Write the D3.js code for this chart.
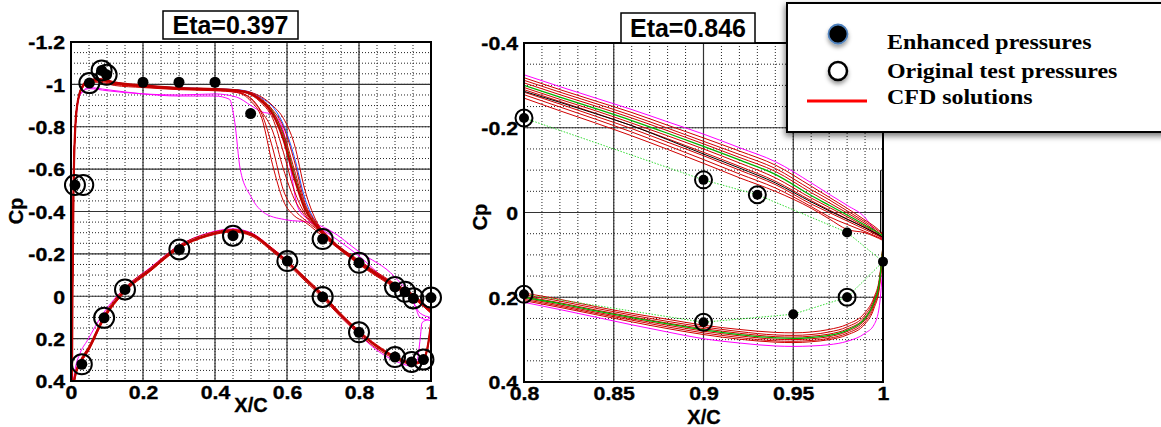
<!DOCTYPE html>
<html>
<head>
<meta charset="utf-8">
<script src="https://cdn.jsdelivr.net/npm/d3@7"></script>
<style>
  body { margin: 0; background: #fff; }
  svg { display: block; }
  .tick-label { font-family: "Liberation Sans", Arial, sans-serif; font-weight: bold; font-size: 19px; fill: #000; stroke: #000; stroke-width: 0.35px; }
</style>
</head>
<body>
<svg id="chart" width="1161" height="427"></svg>
<script>
// ---------------- Eta = 0.397 (inboard section) ----------------
const xUpperL = [0, 0.002, 0.004, 0.007, 0.012, 0.02, 0.035, 0.05, 0.08, 0.12, 0.2, 0.3, 0.4, 0.46, 0.5, 0.53, 0.56, 0.59, 0.62, 0.65, 0.68, 0.72, 0.8, 0.9, 0.95, 0.98, 1.0];
const upperRedL = [
  [1.0, 0.6, 0.0, -0.5, -0.8, -0.93, -1.0, -1.02, -1.025, -1.01, -0.995, -0.983, -0.978, -0.972, -0.955, -0.92, -0.86, -0.74, -0.56, -0.41, -0.335, -0.265, -0.16, -0.05, 0.0, 0.04, 0.07],
  [1.0, 0.6, 0.0, -0.5, -0.8, -0.93, -1.0, -1.02, -1.02, -1.005, -0.99, -0.98, -0.975, -0.97, -0.958, -0.93, -0.88, -0.80, -0.64, -0.44, -0.35, -0.27, -0.165, -0.055, -0.005, 0.04, 0.07],
  [1.0, 0.6, 0.0, -0.5, -0.8, -0.93, -1.0, -1.015, -1.02, -1.005, -0.99, -0.978, -0.973, -0.968, -0.95, -0.91, -0.84, -0.68, -0.50, -0.39, -0.33, -0.262, -0.158, -0.048, 0.002, 0.045, 0.075],
  [1.0, 0.6, 0.0, -0.5, -0.8, -0.93, -1.0, -1.02, -1.025, -1.01, -0.995, -0.984, -0.979, -0.974, -0.962, -0.94, -0.90, -0.84, -0.72, -0.50, -0.36, -0.275, -0.17, -0.06, -0.01, 0.035, 0.065],
  [1.0, 0.6, 0.0, -0.5, -0.8, -0.93, -0.99, -1.01, -1.01, -0.995, -0.985, -0.975, -0.97, -0.962, -0.935, -0.87, -0.78, -0.60, -0.46, -0.38, -0.325, -0.26, -0.155, -0.045, 0.005, 0.05, 0.08],
  [1.0, 0.6, 0.0, -0.5, -0.8, -0.93, -0.99, -1.01, -1.015, -1.0, -0.988, -0.977, -0.972, -0.962, -0.92, -0.84, -0.62, -0.45, -0.38, -0.35, -0.31, -0.255, -0.15, -0.04, 0.01, 0.05, 0.08],
  [1.0, 0.6, 0.0, -0.5, -0.8, -0.93, -1.0, -1.015, -1.02, -1.005, -0.99, -0.98, -0.974, -0.966, -0.93, -0.86, -0.70, -0.50, -0.41, -0.36, -0.32, -0.26, -0.155, -0.045, 0.005, 0.045, 0.075],
  [1.0, 0.6, 0.0, -0.5, -0.8, -0.93, -1.0, -1.02, -1.022, -1.008, -0.993, -0.982, -0.977, -0.971, -0.955, -0.925, -0.87, -0.77, -0.60, -0.43, -0.345, -0.27, -0.163, -0.052, -0.002, 0.04, 0.07]
];
const upperGreenL = [1.0, 0.6, 0.0, -0.5, -0.8, -0.93, -1.0, -1.02, -1.022, -1.007, -0.992, -0.981, -0.976, -0.97, -0.956, -0.925, -0.875, -0.76, -0.58, -0.42, -0.34, -0.268, -0.162, -0.05, 0.0, 0.042, 0.072];
const upperBlueL = [1.0, 0.6, 0.0, -0.5, -0.8, -0.93, -1.0, -1.02, -1.025, -1.01, -0.995, -0.984, -0.979, -0.975, -0.962, -0.935, -0.895, -0.81, -0.66, -0.46, -0.35, -0.272, -0.166, -0.055, -0.005, 0.04, 0.07];
const upperMagentaL = [
  [[0, 1.0], [0.003, 0.2], [0.006, -0.4], [0.012, -0.8], [0.025, -0.95], [0.05, -0.985], [0.1, -0.975], [0.2, -0.955], [0.3, -0.945], [0.4, -0.945], [0.44, -0.93], [0.455, -0.82], [0.47, -0.6], [0.5, -0.47], [0.54, -0.39], [0.6, -0.36], [0.66, -0.35], [0.72, -0.31], [0.8, -0.21], [0.9, -0.09], [0.95, 0.02], [0.97, 0.1], [1.0, 0.115]],
  [[0, 1.0], [0.003, 0.2], [0.006, -0.4], [0.012, -0.8], [0.025, -0.95], [0.05, -0.98], [0.1, -0.97], [0.2, -0.955], [0.3, -0.95], [0.4, -0.955], [0.46, -0.94], [0.5, -0.9], [0.53, -0.87], [0.56, -0.86], [0.59, -0.78], [0.61, -0.6], [0.63, -0.42], [0.66, -0.36], [0.72, -0.29], [0.8, -0.19], [0.88, -0.07], [0.94, 0.0], [0.97, 0.08], [1.0, 0.1]]
];

const xLowerL = [0, 0.003, 0.006, 0.012, 0.025, 0.05, 0.09, 0.15, 0.22, 0.3, 0.38, 0.45, 0.5, 0.56, 0.6, 0.65, 0.7, 0.75, 0.8, 0.85, 0.9, 0.95, 0.975, 0.99, 1.0];
const lowerRedL = [
  [1.0, 0.6, 0.44, 0.37, 0.315, 0.245, 0.105, -0.03, -0.125, -0.232, -0.288, -0.308, -0.292, -0.218, -0.163, -0.082, 0.0, 0.09, 0.17, 0.238, 0.288, 0.316, 0.305, 0.245, 0.13],
  [1.0, 0.62, 0.46, 0.385, 0.325, 0.255, 0.115, -0.02, -0.117, -0.225, -0.283, -0.303, -0.285, -0.21, -0.153, -0.072, 0.01, 0.1, 0.18, 0.248, 0.296, 0.322, 0.31, 0.25, 0.13],
  [1.0, 0.58, 0.43, 0.36, 0.305, 0.235, 0.095, -0.04, -0.133, -0.24, -0.296, -0.315, -0.298, -0.226, -0.17, -0.09, -0.01, 0.082, 0.162, 0.23, 0.282, 0.312, 0.3, 0.24, 0.125],
  [1.0, 0.6, 0.45, 0.375, 0.32, 0.25, 0.11, -0.025, -0.12, -0.228, -0.29, -0.312, -0.296, -0.222, -0.166, -0.085, -0.004, 0.086, 0.166, 0.234, 0.286, 0.318, 0.308, 0.25, 0.14]
];
const lowerGreenL = [1.0, 0.6, 0.44, 0.37, 0.312, 0.242, 0.103, -0.032, -0.127, -0.234, -0.29, -0.31, -0.294, -0.22, -0.165, -0.084, -0.002, 0.088, 0.168, 0.236, 0.287, 0.315, 0.304, 0.244, 0.128];
const lowerMagentaL = [[0, 1.0], [0.003, 0.5], [0.01, 0.36], [0.025, 0.27], [0.045, 0.21], [0.09, 0.08], [0.15, -0.04], [0.22, -0.135], [0.3, -0.24], [0.38, -0.298], [0.45, -0.318], [0.5, -0.3], [0.56, -0.225], [0.6, -0.17], [0.65, -0.085], [0.7, 0.0], [0.75, 0.095], [0.8, 0.18], [0.85, 0.255], [0.9, 0.305], [0.95, 0.33], [0.962, 0.3], [0.97, 0.2], [0.975, 0.125], [0.99, 0.11], [1.0, 0.1]];
const trailingEdgeL = [[1.0, -0.08], [1.0, 0.38]];

const testUpperL = [[0.011, -0.525], [0.034, -0.525], [0.051, -1.006], [0.085, -1.066], [0.099, -1.045], [0.699, -0.27], [0.8, -0.158], [0.9, -0.044], [0.928, -0.021], [0.951, 0.01], [1.0, 0.006]];
const testLowerL = [[0.03, 0.321], [0.092, 0.102], [0.15, -0.032], [0.301, -0.221], [0.45, -0.286], [0.601, -0.166], [0.699, 0.003], [0.8, 0.17], [0.9, 0.287], [0.946, 0.31], [0.979, 0.299]];
const enhancedL = [[0.011, -0.525], [0.051, -1.006], [0.085, -1.066], [0.099, -1.045], [0.2, -1.01], [0.3, -1.01], [0.4, -1.01], [0.499, -0.862],
  [0.699, -0.27], [0.8, -0.158], [0.9, -0.044], [0.928, -0.021], [0.951, 0.01], [1.0, 0.006],
  [0.03, 0.321], [0.092, 0.102], [0.15, -0.032], [0.301, -0.221], [0.45, -0.286], [0.601, -0.166], [0.699, 0.003], [0.8, 0.17], [0.9, 0.287], [0.946, 0.31], [0.979, 0.299]];

const xTicksL = [0, 0.2, 0.4, 0.6, 0.8, 1];
const xTickLabelsL = ["0", "0.2", "0.4", "0.6", "0.8", "1"];
const yTicksL = [-1.2, -1, -0.8, -0.6, -0.4, -0.2, 0, 0.2, 0.4];
const yTickLabelsL = ["-1.2", "-1", "-0.8", "-0.6", "-0.4", "-0.2", "0", "0.2", "0.4"];

// ---------------- Eta = 0.846 (outboard section, aft region) ----------------
const xUpperR = [0.8, 0.82, 0.84, 0.86, 0.88, 0.9, 0.92, 0.94, 0.96, 0.97, 0.98, 0.99, 0.995, 1.0];
const upperRedR = [
  [-0.318, -0.29, -0.263, -0.236, -0.206, -0.176, -0.145, -0.112, -0.062, -0.036, -0.01, 0.018, 0.032, 0.05],
  [-0.312, -0.284, -0.257, -0.229, -0.199, -0.168, -0.137, -0.104, -0.054, -0.03, -0.004, 0.022, 0.036, 0.052],
  [-0.306, -0.278, -0.251, -0.223, -0.193, -0.162, -0.13, -0.097, -0.047, -0.023, 0.001, 0.026, 0.04, 0.055],
  [-0.295, -0.267, -0.24, -0.211, -0.181, -0.15, -0.117, -0.082, -0.034, -0.012, 0.01, 0.033, 0.045, 0.058],
  [-0.29, -0.262, -0.234, -0.205, -0.174, -0.142, -0.109, -0.074, -0.028, -0.006, 0.015, 0.036, 0.048, 0.06],
  [-0.284, -0.256, -0.227, -0.198, -0.166, -0.134, -0.1, -0.066, -0.02, 0.0, 0.02, 0.04, 0.05, 0.062],
  [-0.278, -0.249, -0.22, -0.19, -0.158, -0.125, -0.091, -0.058, -0.014, 0.01, 0.028, 0.045, 0.054, 0.064],
  [-0.27, -0.24, -0.211, -0.181, -0.149, -0.116, -0.082, -0.05, -0.01, 0.015, 0.04, 0.048, 0.056, 0.066]
];
const upperBlackR = [-0.286, -0.26, -0.233, -0.205, -0.172, -0.138, -0.105, -0.07, -0.025, -0.004, 0.016, 0.036, 0.047, 0.058];
const upperGreenR = [-0.30, -0.272, -0.245, -0.217, -0.187, -0.156, -0.124, -0.09, -0.04, -0.017, 0.006, 0.03, 0.042, 0.055];
const upperMagentaR = [-0.325, -0.297, -0.27, -0.243, -0.214, -0.185, -0.153, -0.12, -0.07, -0.043, -0.017, 0.012, 0.04, 0.065];

const xLowerR = [0.8, 0.82, 0.84, 0.86, 0.88, 0.9, 0.92, 0.94, 0.95, 0.96, 0.97, 0.98, 0.99, 0.995, 0.998, 1.0];
const lowerRedR = [
  [0.19, 0.205, 0.222, 0.238, 0.252, 0.266, 0.276, 0.283, 0.284, 0.282, 0.276, 0.264, 0.236, 0.2, 0.155, 0.075],
  [0.194, 0.209, 0.226, 0.242, 0.257, 0.27, 0.281, 0.289, 0.29, 0.288, 0.282, 0.27, 0.242, 0.205, 0.16, 0.078],
  [0.198, 0.213, 0.23, 0.246, 0.261, 0.274, 0.285, 0.293, 0.294, 0.292, 0.287, 0.275, 0.247, 0.21, 0.163, 0.08],
  [0.202, 0.218, 0.235, 0.251, 0.266, 0.28, 0.291, 0.299, 0.3, 0.298, 0.293, 0.281, 0.253, 0.215, 0.168, 0.082],
  [0.205, 0.221, 0.238, 0.254, 0.27, 0.284, 0.295, 0.303, 0.304, 0.302, 0.297, 0.285, 0.258, 0.22, 0.172, 0.085],
  [0.208, 0.224, 0.241, 0.258, 0.274, 0.288, 0.299, 0.306, 0.307, 0.305, 0.3, 0.289, 0.263, 0.226, 0.178, 0.088]
];
const lowerGreenR = [0.20, 0.215, 0.232, 0.248, 0.263, 0.277, 0.288, 0.296, 0.297, 0.295, 0.29, 0.278, 0.25, 0.212, 0.165, 0.08];
const lowerMagentaR = [0.212, 0.229, 0.247, 0.265, 0.282, 0.298, 0.308, 0.315, 0.316, 0.315, 0.312, 0.304, 0.285, 0.265, 0.22, 0.12];
const trailingEdgeR = [[1.0, -0.19], [1.0, 0.19]];
const trailingEdgeBlackR = [[0.9987, -0.1], [0.9987, 0.048]];

const testDottedUpperR = [[0.8, -0.223], [0.9, -0.077], [0.93, -0.042], [0.98, 0.047], [1.0, 0.116]];
const testDottedLowerR = [[0.8, 0.193], [0.9, 0.259], [0.95, 0.24], [0.98, 0.2], [1.0, 0.116]];
const testR = [[0.8, -0.223], [0.9, -0.077], [0.93, -0.042], [0.8, 0.193], [0.9, 0.259], [0.98, 0.2]];
const enhancedR = [[0.8, -0.223], [0.9, -0.077], [0.93, -0.042], [0.98, 0.047], [1.0, 0.116], [0.8, 0.193], [0.9, 0.259], [0.95, 0.24], [0.98, 0.2]];

const xTicksR = [0.8, 0.85, 0.9, 0.95, 1];
const xTickLabelsR = ["0.8", "0.85", "0.9", "0.95", "1"];
const yTicksR = [-0.4, -0.2, 0, 0.2, 0.4];
const yTickLabelsR = ["-0.4", "-0.2", "0", "0.2", "0.4"];

const legendLabels = ["Enhanced pressures", "Original test pressures", "CFD solutions"];

// ---------------- drawing ----------------
const svg = d3.select("#chart");
const defs = svg.append("defs");
const shadow = defs.append("filter").attr("id", "legendShadow")
  .attr("x", "-10%").attr("y", "-10%").attr("width", "130%").attr("height", "140%");
shadow.append("feDropShadow").attr("dx", -1).attr("dy", 3).attr("stdDeviation", 3)
  .attr("flood-color", "#000").attr("flood-opacity", 0.55);
const dotShadow = defs.append("filter").attr("id", "dotShadow")
  .attr("x", "-50%").attr("y", "-50%").attr("width", "200%").attr("height", "200%");
dotShadow.append("feDropShadow").attr("dx", 0).attr("dy", 3).attr("stdDeviation", 2)
  .attr("flood-color", "#000").attr("flood-opacity", 0.4);

const zip = (xs, ys) => xs.map((x, i) => [x, ys[i]]);
const LABEL_STRETCH = 1.12;

function drawPanel(cfg) {
  const x = d3.scaleLinear().domain(cfg.xDomain).range([cfg.left, cfg.right]);
  const y = d3.scaleLinear().domain(cfg.yDomain).range([cfg.top, cfg.bottom]);
  const g = svg.append("g");

  // grid: dotted minor lines, solid major lines
  const nMinX = Math.round((cfg.xDomain[1] - cfg.xDomain[0]) / cfg.xMinor);
  const nMinY = Math.round((cfg.yDomain[1] - cfg.yDomain[0]) / cfg.yMinor);
  const minX = d3.range(nMinX + 1).map(i => cfg.xDomain[0] + i * cfg.xMinor);
  const minY = d3.range(nMinY + 1).map(i => cfg.yDomain[0] + i * cfg.yMinor);
  g.append("g").selectAll("line").data(minX).join("line")
    .attr("x1", d => x(d)).attr("x2", d => x(d)).attr("y1", cfg.top).attr("y2", cfg.bottom)
    .attr("stroke", "#222").attr("stroke-width", 1).attr("stroke-dasharray", "1,2");
  g.append("g").selectAll("line").data(minY).join("line")
    .attr("y1", d => y(d)).attr("y2", d => y(d)).attr("x1", cfg.left).attr("x2", cfg.right)
    .attr("stroke", "#222").attr("stroke-width", 1).attr("stroke-dasharray", "1,2");
  g.append("g").selectAll("line").data(cfg.xTicks).join("line")
    .attr("x1", d => x(d)).attr("x2", d => x(d)).attr("y1", cfg.top).attr("y2", cfg.bottom)
    .attr("stroke", "#333").attr("stroke-width", 1.2);
  g.append("g").selectAll("line").data(cfg.yTicks).join("line")
    .attr("y1", d => y(d)).attr("y2", d => y(d)).attr("x1", cfg.left).attr("x2", cfg.right)
    .attr("stroke", "#333").attr("stroke-width", 1.2);

  // solution curves, clipped to the plot frame
  const clipId = "clip" + cfg.id;
  defs.append("clipPath").attr("id", clipId).append("rect")
    .attr("x", cfg.left).attr("y", cfg.top).attr("width", cfg.right - cfg.left).attr("height", cfg.bottom - cfg.top);
  const curves = g.append("g").attr("clip-path", `url(#${clipId})`);
  const line = d3.line().x(d => x(d[0])).y(d => y(d[1])).curve(d3.curveMonotoneX);
  const straight = d3.line().x(d => x(d[0])).y(d => y(d[1]));
  cfg.series.forEach(s => {
    curves.append("path").attr("d", (s.straight ? straight : line)(s.pts))
      .attr("fill", "none").attr("stroke", s.color).attr("stroke-width", s.width || 1)
      .attr("stroke-dasharray", s.dash || null).attr("stroke-linejoin", "round");
  });

  // frame
  g.append("rect").attr("x", cfg.left).attr("y", cfg.top)
    .attr("width", cfg.right - cfg.left).attr("height", cfg.bottom - cfg.top)
    .attr("fill", "none").attr("stroke", "#000").attr("stroke-width", 2);

  // axis labels
  const ax = g.append("g").attr("transform", `translate(0,${cfg.bottom})`)
    .call(d3.axisBottom(x).tickValues(cfg.xTicks).tickFormat((d, i) => cfg.xLabels[i]).tickSize(0).tickPadding(5));
  ax.select(".domain").remove();
  ax.selectAll("text").attr("class", "tick-label").attr("transform", `scale(${LABEL_STRETCH},1)`);
  const ay = g.append("g").attr("transform", `translate(${cfg.left},0)`)
    .call(d3.axisLeft(y).tickValues(cfg.yTicks).tickFormat((d, i) => cfg.yLabels[i]).tickSize(0).tickPadding(6));
  ay.select(".domain").remove();
  ay.selectAll("text").attr("class", "tick-label").attr("x", -6 / LABEL_STRETCH).attr("dy", "0.36em")
    .attr("transform", `scale(${LABEL_STRETCH},1)`);
  [ax, ay].forEach(a => a.attr("font-family", null).attr("font-size", null));

  g.append("text").attr("x", cfg.xTitlePos[0]).attr("y", cfg.xTitlePos[1])
    .attr("text-anchor", "middle").attr("font-family", "Liberation Sans, Arial, sans-serif")
    .attr("font-weight", "bold").attr("font-size", 20).attr("stroke", "#000").attr("stroke-width", 0.3).text("X/C");
  g.append("text").attr("transform", `translate(${cfg.yTitlePos[0]},${cfg.yTitlePos[1]}) rotate(-90)`)
    .attr("text-anchor", "middle").attr("dy", "0.35em").attr("font-family", "Liberation Sans, Arial, sans-serif")
    .attr("font-weight", "bold").attr("font-size", 20).attr("stroke", "#000").attr("stroke-width", 0.3).text("Cp");

  // measured pressures
  const pts = g.append("g");
  pts.selectAll("circle.test").data(cfg.test).join("circle").attr("class", "test")
    .attr("cx", d => x(d[0])).attr("cy", d => y(d[1])).attr("r", cfg.openR)
    .attr("fill", "none").attr("stroke", "#000").attr("stroke-width", 2);
  pts.selectAll("circle.enh").data(cfg.enhanced).join("circle").attr("class", "enh")
    .attr("cx", d => x(d[0])).attr("cy", d => y(d[1])).attr("r", cfg.dotR).attr("fill", "#000");

  // title box
  const tb = g.append("g");
  tb.append("rect").attr("x", cfg.titleBox[0]).attr("y", cfg.titleBox[1])
    .attr("width", cfg.titleBox[2]).attr("height", cfg.titleBox[3])
    .attr("fill", "#fff").attr("stroke", "#000").attr("stroke-width", 1.5);
  tb.append("text").attr("x", cfg.titleBox[0] + cfg.titleBox[2] / 2).attr("y", cfg.titleBox[1] + cfg.titleBox[3] / 2)
    .attr("dy", "0.36em").attr("text-anchor", "middle")
    .attr("font-family", "Liberation Sans, Arial, sans-serif").attr("font-weight", "bold").attr("font-size", 25)
    .text(cfg.title);
}

const RED = "#d00000", GREEN = "#00b000", MAGENTA = "#ff00ff", BLUE = "#1f4fff";

drawPanel({
  id: "L", left: 71, right: 431, top: 42, bottom: 381,
  xDomain: [0, 1], yDomain: [-1.2, 0.4], xMinor: 0.05, yMinor: 0.05,
  xTicks: xTicksL, xLabels: xTickLabelsL, yTicks: yTicksL, yLabels: yTickLabelsL,
  xTitlePos: [251, 412], yTitlePos: [16, 211],
  title: "Eta=0.397", titleBox: [163, 11, 135, 28],
  openR: 10, dotR: 5.5,
  test: testUpperL.concat(testLowerL), enhanced: enhancedL,
  series: [
    { pts: zip(xUpperL, upperBlueL), color: BLUE },
    ...upperMagentaL.map(p => ({ pts: p, color: MAGENTA })),
    { pts: lowerMagentaL, color: MAGENTA },
    { pts: zip(xUpperL, upperGreenL), color: GREEN },
    { pts: zip(xLowerL, lowerGreenL), color: GREEN },
    ...upperRedL.slice(1).map(c => ({ pts: zip(xUpperL, c), color: RED })),
    ...lowerRedL.slice(1).map(c => ({ pts: zip(xLowerL, c), color: RED })),
    { pts: zip(xUpperL, upperRedL[0]), color: "#c00000", width: 2.2 },
    { pts: zip(xLowerL, lowerRedL[0]), color: "#c00000", width: 2.2 },
    { pts: trailingEdgeL, color: RED, width: 2, straight: true }
  ]
});

drawPanel({
  id: "R", left: 524, right: 883, top: 43, bottom: 382,
  xDomain: [0.8, 1], yDomain: [-0.4, 0.4], xMinor: 0.01, yMinor: 0.05,
  xTicks: xTicksR, xLabels: xTickLabelsR, yTicks: yTicksR, yLabels: yTickLabelsR,
  xTitlePos: [704, 424], yTitlePos: [480, 217],
  title: "Eta=0.846", titleBox: [621, 13, 134, 30],
  openR: 8.5, dotR: 5,
  test: testR, enhanced: enhancedR,
  series: [
    { pts: zip(xUpperR, upperMagentaR), color: MAGENTA },
    { pts: zip(xLowerR, lowerMagentaR), color: MAGENTA },
    ...upperRedR.map(c => ({ pts: zip(xUpperR, c), color: RED })),
    ...lowerRedR.map(c => ({ pts: zip(xLowerR, c), color: RED })),
    { pts: zip(xUpperR, upperBlackR), color: "#000" },
    { pts: zip(xUpperR, upperGreenR), color: GREEN, width: 1.3 },
    { pts: zip(xLowerR, lowerGreenR), color: GREEN, width: 1.3 },
    { pts: testDottedUpperR, color: "#33dd33", dash: "1.5,1.5", straight: true },
    { pts: testDottedLowerR, color: "#33dd33", dash: "1.5,1.5", straight: true },
    { pts: trailingEdgeR, color: RED, width: 2, straight: true },
    { pts: trailingEdgeBlackR, color: "#000", width: 1.2, straight: true }
  ]
});

// legend
const lg = svg.append("g");
lg.append("rect").attr("x", 787).attr("y", 3).attr("width", 400).attr("height", 129)
  .attr("fill", "#fff").attr("stroke", "#000").attr("stroke-width", 2).attr("filter", "url(#legendShadow)");
lg.append("circle").attr("cx", 838).attr("cy", 34).attr("r", 9.5)
  .attr("fill", "#000").attr("stroke", "#4f81bd").attr("stroke-width", 1.8).attr("filter", "url(#dotShadow)");
lg.append("circle").attr("cx", 838).attr("cy", 71).attr("r", 9)
  .attr("fill", "#fff").attr("stroke", "#000").attr("stroke-width", 2.5).attr("filter", "url(#dotShadow)");
lg.append("line").attr("x1", 807).attr("x2", 867).attr("y1", 101).attr("y2", 101)
  .attr("stroke", "#ff0000").attr("stroke-width", 3);
lg.selectAll("text").data(legendLabels).join("text")
  .attr("transform", (d, i) => `translate(887,${[49, 78, 104][i]}) scale(1.14,1)`)
  .attr("font-family", "Liberation Serif, Times New Roman, serif").attr("font-weight", "bold")
  .attr("font-size", 21).text(d => d);
</script>
</body>
</html>
